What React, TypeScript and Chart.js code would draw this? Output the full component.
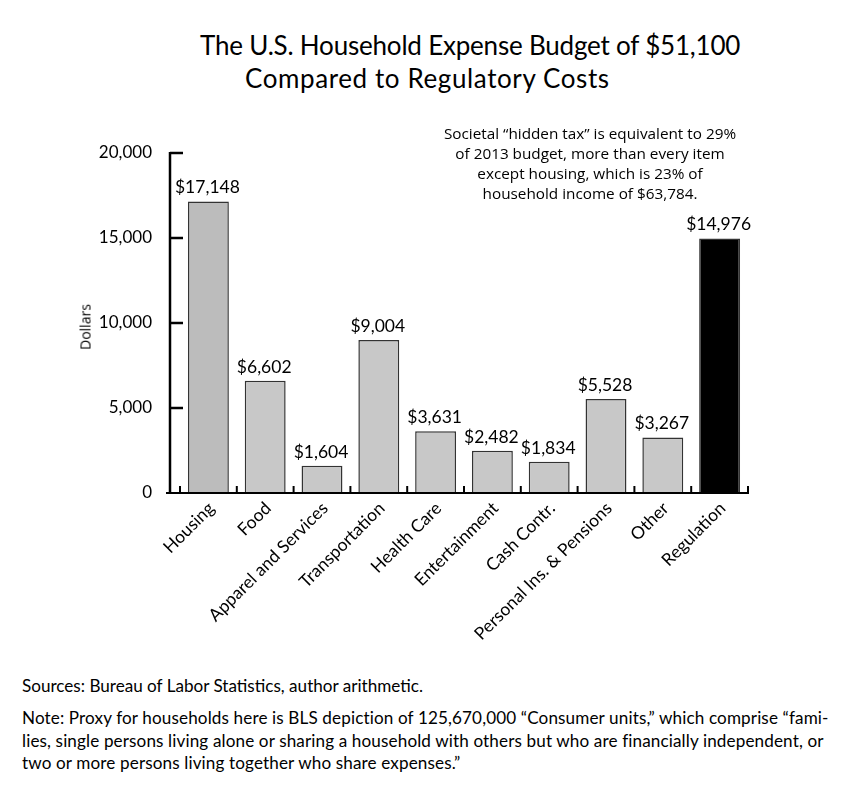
import React, { useEffect, useRef } from "react";
import { Chart, registerables } from "chart.js";

Chart.register(...registerables);

const categories = [
  "Housing",
  "Food",
  "Apparel and Services",
  "Transportation",
  "Health Care",
  "Entertainment",
  "Cash Contr.",
  "Personal Ins. & Pensions",
  "Other",
  "Regulation",
];
const values = [17148, 6602, 1604, 9004, 3631, 2482, 1834, 5528, 3267, 14976];
const barColors = [
  "#bcbcbc",
  "#c8c8c8",
  "#c8c8c8",
  "#c8c8c8",
  "#c8c8c8",
  "#c8c8c8",
  "#c8c8c8",
  "#c8c8c8",
  "#c8c8c8",
  "#000000",
];
const yMax = 20000;
const yStep = 5000;

const titleLines = [
  "The U.S. Household Expense Budget of $51,100",
  "Compared to Regulatory Costs",
];
const noteLines = [
  "Societal \u201chidden tax\u201d is equivalent to 29%",
  "of 2013 budget, more than every item",
  "except housing, which is 23% of",
  "household income of $63,784.",
];
const sourceText = "Sources: Bureau of Labor Statistics, author arithmetic.";
const footLines = [
  "Note: Proxy for households here is BLS depiction of 125,670,000 \u201cConsumer units,\u201d which comprise \u201cfami-",
  "lies, single persons living alone or sharing a household with others but who are financially independent, or",
  "two or more persons living together who share expenses.\u201d",
];

const GILL = "Lato, 'Open Sans', sans-serif";
const MYRIAD = "'Open Sans', 'Noto Sans', sans-serif";

const fmt = (v: number) => v.toLocaleString("en-US");

const axesPlugin = {
  id: "customAxes",
  afterDatasetsDraw(chart: any) {
    const { ctx, chartArea } = chart;
    const x = chart.scales.x;
    const y = chart.scales.y;
    const axisX = chartArea.left - 10;
    const base = y.getPixelForValue(0);
    ctx.save();
    ctx.strokeStyle = "#000";
    ctx.lineCap = "butt";
    // y axis line
    ctx.lineWidth = 2.5;
    ctx.beginPath();
    ctx.moveTo(axisX, y.getPixelForValue(yMax) - 1);
    ctx.lineTo(axisX, base + 1);
    ctx.stroke();
    // y ticks pointing inward
    y.ticks.forEach((t: any) => {
      if (t.value === 0) return;
      const py = y.getPixelForValue(t.value);
      ctx.beginPath();
      ctx.moveTo(axisX, py);
      ctx.lineTo(axisX + 13, py);
      ctx.stroke();
    });
    // x axis line
    ctx.lineWidth = 2;
    ctx.beginPath();
    ctx.moveTo(axisX - 4, base);
    ctx.lineTo(chartArea.right + 1, base);
    ctx.stroke();
    // x ticks at category boundaries, pointing up
    const n = categories.length;
    const w = x.getPixelForValue(1) - x.getPixelForValue(0);
    for (let i = 0; i <= n; i++) {
      const px = x.getPixelForValue(0) - w / 2 + i * w;
      ctx.beginPath();
      ctx.moveTo(px, base);
      ctx.lineTo(px, base - 7);
      ctx.stroke();
    }
    // value labels
    const meta = chart.getDatasetMeta(0);
    ctx.fillStyle = "#000";
    ctx.font = `17.5px ${GILL}`;
    ctx.textAlign = "center";
    ctx.textBaseline = "bottom";
    meta.data.forEach((bar: any, i: number) => {
      ctx.fillText("$" + fmt(values[i]), bar.x - 1, bar.y - 5);
    });
    ctx.restore();
  },
};

export default function App() {
  const ref = useRef<HTMLCanvasElement | null>(null);
  useEffect(() => {
    if (!ref.current) return;
    const chart = new Chart(ref.current, {
      type: "bar",
      data: {
        labels: categories,
        datasets: [
          {
            data: values,
            backgroundColor: barColors,
            borderColor: "#333333",
            borderWidth: 1.5,
            barPercentage: 0.72,
            categoryPercentage: 1,
          },
        ],
      },
      options: {
        animation: false,
        responsive: false,
        devicePixelRatio: 1,
        layout: { padding: { top: 53, right: 95, left: 0, bottom: 0 } },
        plugins: {
          legend: { display: false },
          tooltip: { enabled: false },
          title: { display: false },
        },
        scales: {
          x: {
            grid: { display: false },
            border: { display: false },
            ticks: {
              color: "#000",
              font: { family: GILL, size: 17.5 },
              maxRotation: 45,
              minRotation: 45,
              autoSkip: false,
              padding: -3,
              labelOffset: 3,
            },
            afterFit: (s: any) => {
              s.height = 177;
            },
          },
          y: {
            min: 0,
            max: yMax,
            grid: { display: false },
            border: { display: false },
            ticks: {
              stepSize: yStep,
              color: "#000",
              font: { family: GILL, size: 17 },
              padding: 20,
              callback: (v: any) => fmt(Number(v)),
            },
            afterFit: (s: any) => {
              s.width = 172;
            },
          },
        },
      },
      plugins: [axesPlugin],
    });
    return () => chart.destroy();
  }, []);

  return (
    <div style={{ position: "relative", width: 835, height: 784, fontFamily: GILL, color: "#000" }}>
      <div
        style={{
          position: "absolute",
          left: 192,
          top: 22,
          fontSize: 26,
          lineHeight: "30px",
          letterSpacing: "-0.2px",
          whiteSpace: "nowrap",
        }}
      >
        {titleLines[0]}
      </div>
      <div
        style={{
          position: "absolute",
          left: 237,
          top: 55,
          fontSize: 26,
          lineHeight: "30px",
          letterSpacing: "0.6px",
          whiteSpace: "nowrap",
        }}
      >
        {titleLines[1]}
      </div>
      <canvas
        ref={ref}
        width={835}
        height={570}
        style={{ position: "absolute", left: 0, top: 92, width: 835, height: 570 }}
      />
      <div
        style={{
          position: "absolute",
          left: 382,
          width: 400,
          top: 115,
          textAlign: "center",
          fontFamily: MYRIAD,
          fontSize: 15.3,
          lineHeight: "20px",
          whiteSpace: "nowrap",
        }}
      >
        {noteLines.map((l, i) => (
          <div key={i}>{l}</div>
        ))}
      </div>
      <div
        style={{
          position: "absolute",
          left: 77,
          top: 319,
          fontSize: 14,
          fontFamily: MYRIAD,
          fontWeight: 400,
          transform: "translate(-50%, -50%) rotate(-90deg)",
          whiteSpace: "nowrap",
        }}
      >
        Dollars
      </div>
      <div
        style={{
          position: "absolute",
          left: 14,
          top: 667,
          fontSize: 17.1,
          lineHeight: "22px",
          whiteSpace: "nowrap",
        }}
      >
        {sourceText}
      </div>
      <div
        style={{
          position: "absolute",
          left: 14,
          top: 699,
          fontSize: 17.1,
          lineHeight: "22.5px",
          letterSpacing: "0.13px",
          whiteSpace: "nowrap",
        }}
      >
        {footLines.map((l, i) => (
          <div key={i}>{l}</div>
        ))}
      </div>
    </div>
  );
}
